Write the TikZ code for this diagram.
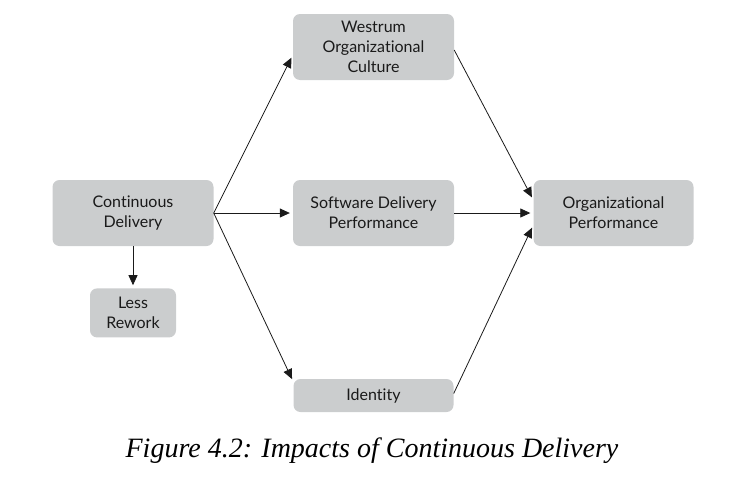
\documentclass[tikz,border=0pt]{standalone}
\usepackage{fontspec}
\setsansfont{Lato}[Ligatures={NoCommon}]
\newfontfamily\captionfont{Liberation Serif}
\usepackage{xcolor}
\usepackage{tikz}
\usetikzlibrary{arrows.meta, positioning}
\definecolor{boxgray}{HTML}{CBCDCE}
\definecolor{inkgray}{HTML}{1A1A1A}
\tikzset{
    box/.style={fill=boxgray, rounded corners=7pt, align=center, text=inkgray,
        minimum width=161pt, minimum height=66pt, inner sep=0pt,
        font=\sffamily\fontsize{16}{20}\selectfont},
    small_box/.style={box, minimum width=86pt, minimum height=49pt},
    flat_box/.style={box, minimum width=160pt, minimum height=33pt},
    link/.style={-{Triangle[length=10pt, width=9pt]}, inkgray, line width=0.8pt, shorten >=3pt},
    caption/.style={font=\captionfont\itshape\fontsize{28}{30}\selectfont, text=black}
}

\begin{document}
\begin{tikzpicture}[x=1pt, y=-1pt]
    \useasboundingbox (0,0) rectangle (731,485);
    % Boxes
    \node[box] (cd) at (133,213) {Continuous\\Delivery};
    \node[small_box, below=42pt of cd] (lr) {Less\\Rework};
    \node[box] (wc) at (373.5,47) {Westrum\\Organizational\\Culture};
    \node[box] (sdp) at (373.5,213) {Software Delivery\\Performance};
    \node[flat_box] (id) at (373.5,395.5) {Identity};
    \node[box, minimum width=160pt] (op) at (613.5,213) {Organizational\\Performance};
    % Links
    \draw[link] (cd.south) -- (lr.north);
    \draw[link] (cd.east) -- ([yshift=-8pt]wc.west);
    \draw[link] (cd.east) -- (sdp.west);
    \draw[link] (cd.east) -- ([yshift=-3pt]id.north west);
    \draw[link] ([yshift=-3pt]wc.east) -- ([yshift=13pt]op.west);
    \draw[link] (sdp.east) -- (op.west);
    \draw[link] ([yshift=2pt]id.east) -- ([yshift=-12pt]op.west);
    % Caption
    \node[caption] (cap) at (372,451) {Figure 4.2: Impacts of Continuous Delivery};
\end{tikzpicture}
\end{document}
